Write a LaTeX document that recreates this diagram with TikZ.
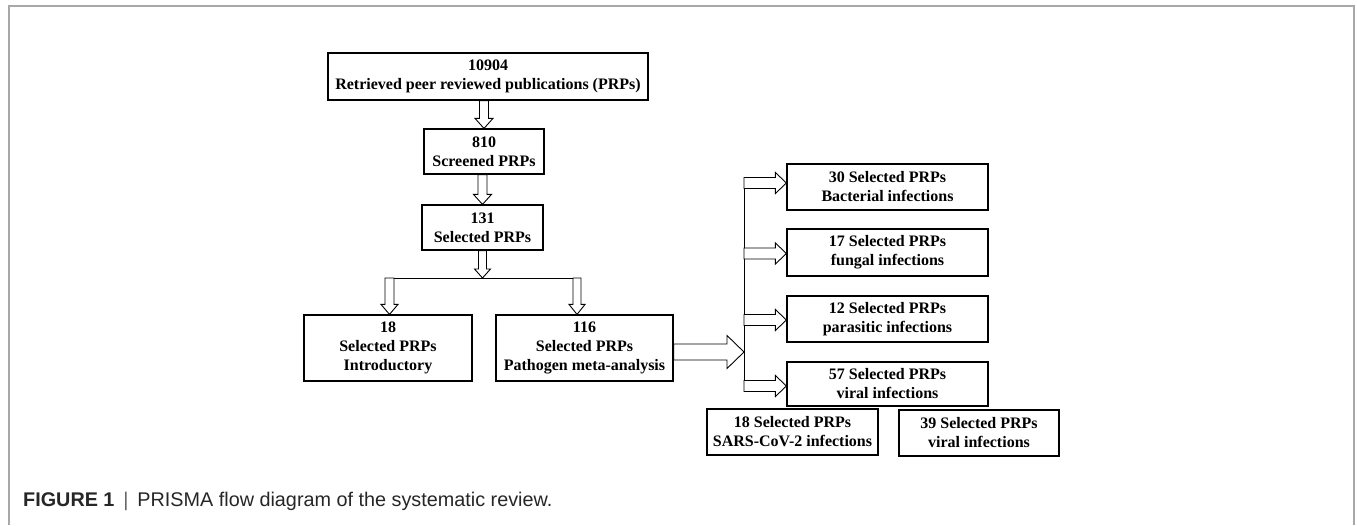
\documentclass[tikz,border=0pt]{standalone}
\usepackage{fontspec}
\setmainfont{Liberation Serif}
\newfontfamily\capfont{Liberation Sans}
\usetikzlibrary{calc}
\definecolor{framegray}{HTML}{A8A8A8}
\tikzset{
  box/.style={draw, line width=1.2pt, inner sep=0pt, align=center,
    font=\fontsize{16}{19}\selectfont\bfseries},
  hollow/.style={draw, fill=white, line width=0.9pt, line join=miter},
  plainline/.style={draw, line width=0.9pt}
}
% vertical hollow arrow: start, tip, shaft half-width, head half-width, head length
\newcommand\hollowdown[5]{%
  \path[hollow] let \p1=(#1), \p2=(#2) in
    (\x1-#3,\y1) -- (\x1-#3,\y2+#5) -- (\x1-#4,\y2+#5) -- (\x1,\y2)
    -- (\x1+#4,\y2+#5) -- (\x1+#3,\y2+#5) -- (\x1+#3,\y1) -- cycle;}
% horizontal hollow arrow (to the right)
\newcommand\hollowright[5]{%
  \path[hollow] let \p1=(#1), \p2=(#2) in
    (\x1,\y2+#3) -- (\x2-#5,\y2+#3) -- (\x2-#5,\y2+#4) -- (\x2,\y2)
    -- (\x2-#5,\y2-#4) -- (\x2-#5,\y2-#3) -- (\x1,\y2-#3) -- cycle;}
\begin{document}
\begin{tikzpicture}[x=1pt,y=-1pt]
\useasboundingbox (0,0) rectangle (1357,525);
% frame
\draw[framegray, line width=1.4pt] (9,525) -- (9,6) -- (1354,6) -- (1354,525);

% boxes
\node[box, minimum width=320, minimum height=47] (b1) at (488,76.5)
  {10904\\Retrieved peer reviewed publications (PRPs)};
\node[box, minimum width=120, minimum height=45] (b2) at (484,151.5)
  {810\\Screened PRPs};
\node[box, minimum width=121, minimum height=45] (b3) at (482.5,227.5)
  {131\\Selected PRPs};
\node[box, minimum width=168, minimum height=66] (b18) at (388,348)
  {18\\Selected PRPs\\Introductory};
\node[box, minimum width=177, minimum height=66] (b116) at (584.5,348)
  {116\\Selected PRPs\\Pathogen meta-analysis};
\node[box, minimum width=201, minimum height=46] (b30) at (887.5,187)
  {30 Selected PRPs\\Bacterial infections};
\node[box, minimum width=201, minimum height=47] (b17) at (887.5,252.5)
  {17 Selected PRPs\\fungal infections};
\node[box, minimum width=201, minimum height=46] (b12) at (887.5,319)
  {12 Selected PRPs\\parasitic infections};
\node[box, minimum width=201, minimum height=44] (b57) at (887.5,384)
  {57 Selected PRPs\\viral infections};
\node[box, minimum width=171, minimum height=46] (bsars) at (792.5,432)
  {18 Selected PRPs\\SARS-CoV-2 infections};
\node[box, minimum width=160, minimum height=46] (b39) at (979,433)
  {39 Selected PRPs\\viral infections};

% vertical chain
\coordinate (a1s) at (b2.north |- b1.south);
\hollowdown{a1s}{b2.north}{4.5pt}{9pt}{10pt}
\coordinate (a2s) at (b3.north |- b2.south);
\hollowdown{a2s}{b3.north}{4.5pt}{9pt}{10pt}

% split
\coordinate (sl) at (385,278);
\coordinate (sr) at (580.5,278);
\coordinate (a3t) at (b3.south |- sl);
\hollowdown{b3.south}{a3t}{4pt}{8pt}{9pt}
\draw[plainline] (sl) -- (sr);
\coordinate (dl) at (389.5,278);
\coordinate (dr) at (577,278);
\hollowdown{dl}{dl |- b18.north}{4.5pt}{8.5pt}{10pt}
\hollowdown{dr}{dr |- b116.north}{4pt}{8pt}{10pt}

% big arrow to distributor
\coordinate (tip) at (744,352);
\coordinate (bigs) at (b116.east |- tip);
\hollowright{bigs}{tip}{8pt}{16.5pt}{17pt}

% distributor line
\coordinate (vtop) at (744,177.5);
\coordinate (vbot) at (744,391.5);
\draw[plainline] (vtop) -- (vbot);
\coordinate (e30) at ($(b30.west)+(0,-4)$);
\coordinate (s30) at (vtop |- e30);
\hollowright{s30}{e30}{5.5pt}{10.5pt}{11pt}
\coordinate (e17) at ($(b17.west)+(0,1)$);
\coordinate (s17) at (vtop |- e17);
\hollowright{s17}{e17}{5.5pt}{10.5pt}{11pt}
\coordinate (e12) at ($(b12.west)+(0,1)$);
\coordinate (s12) at (vtop |- e12);
\hollowright{s12}{e12}{5.5pt}{10.5pt}{11pt}
\coordinate (e57) at ($(b57.west)+(0,2)$);
\coordinate (s57) at (vtop |- e57);
\hollowright{s57}{e57}{5.5pt}{10.5pt}{11pt}

% caption
\node[anchor=base west, inner sep=0pt, font=\capfont\fontsize{19.8}{23}\selectfont,
  text=black!85] (cap) at (23,506)
  {\textbf{FIGURE 1}\hspace{0.45em}{\color{black!60}|}\hspace{0.45em}PRISMA flow diagram of the systematic review.};
\end{tikzpicture}
\end{document}
